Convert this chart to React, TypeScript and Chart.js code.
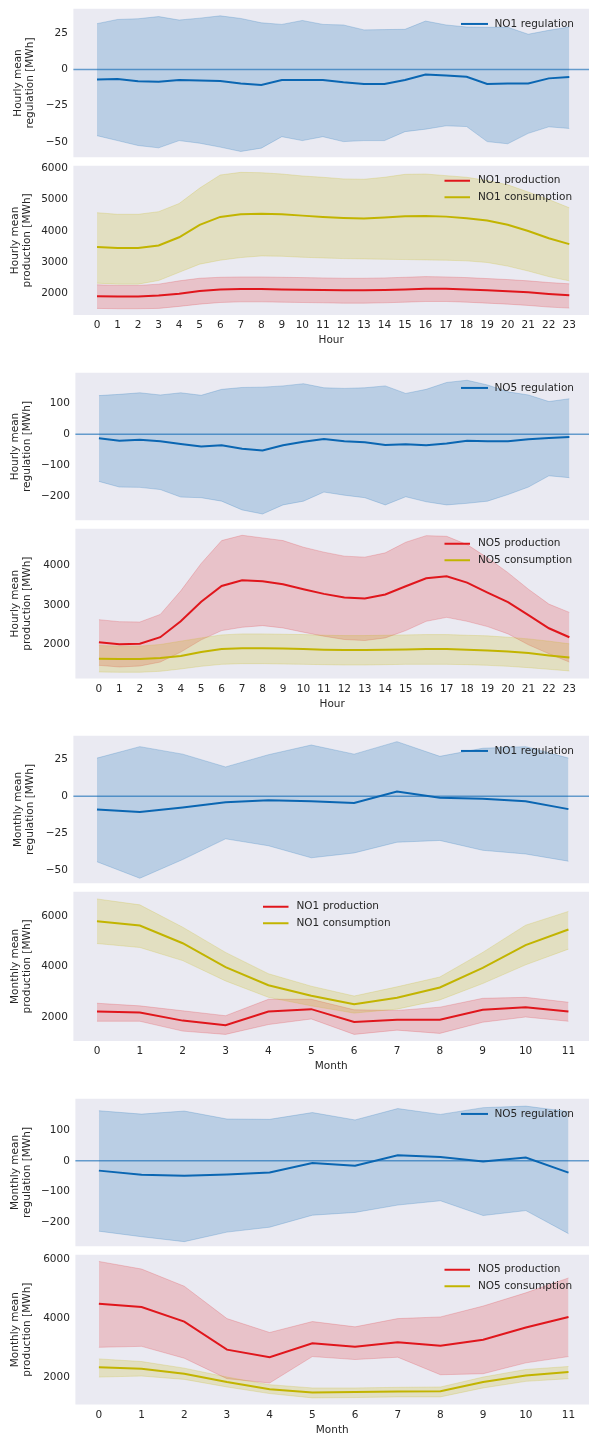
import React, { useEffect, useRef } from "react";
import { Chart, registerables } from "chart.js";

Chart.register(...registerables);

// ---------------- data ----------------
const HOURS = [0, 1, 2, 3, 4, 5, 6, 7, 8, 9, 10, 11, 12, 13, 14, 15, 16, 17, 18, 19, 20, 21, 22, 23];
const MONTHS = [0, 1, 2, 3, 4, 5, 6, 7, 8, 9, 10, 11];

// NO1 hourly regulation
const NO1_H_REG_MEAN = [-6.8, -6.6, -8.1, -8.4, -7.2, -7.5, -7.9, -9.7, -10.6, -7.2, -7.2, -7.2, -8.8, -10, -10, -7.2, -3.4, -4.1, -5, -10, -9.7, -9.7, -6.1, -5.2];
const NO1_H_REG_HIGH = [31.7, 34.6, 35.1, 36.6, 34.2, 35.5, 37.1, 35.3, 32.3, 31.2, 33.9, 31.2, 30.8, 27.4, 27.6, 27.8, 33.5, 30.8, 29.4, 29.2, 29.2, 24.4, 27.1, 29.4];
const NO1_H_REG_LOW = [-45.7, -49.1, -52.5, -54.1, -49.1, -50.9, -53.6, -56.6, -54.3, -46.4, -49.1, -46.4, -49.8, -49.1, -49.1, -42.9, -41.2, -38.9, -39.4, -49.8, -51.3, -44.1, -39.6, -40.7];

// NO1 hourly production / consumption
const NO1_H_PROD_MEAN = [1916, 1906, 1906, 1937, 2000, 2084, 2136, 2147, 2147, 2136, 2126, 2115, 2105, 2105, 2115, 2136, 2157, 2157, 2136, 2105, 2073, 2042, 1990, 1948];
const NO1_H_PROD_HIGH = [2283, 2262, 2262, 2304, 2408, 2492, 2523, 2534, 2534, 2523, 2513, 2503, 2492, 2492, 2503, 2523, 2544, 2534, 2513, 2482, 2450, 2408, 2356, 2314];
const NO1_H_PROD_LOW = [1529, 1518, 1518, 1529, 1592, 1665, 1717, 1738, 1738, 1728, 1717, 1707, 1696, 1696, 1707, 1728, 1749, 1749, 1728, 1696, 1665, 1623, 1571, 1539];
const NO1_H_CONS_MEAN = [3487, 3455, 3455, 3539, 3800, 4199, 4450, 4534, 4555, 4534, 4492, 4450, 4419, 4398, 4429, 4471, 4481, 4460, 4408, 4335, 4199, 4000, 3769, 3581];
const NO1_H_CONS_HIGH = [4586, 4534, 4534, 4618, 4879, 5371, 5790, 5874, 5863, 5821, 5759, 5717, 5665, 5654, 5717, 5811, 5821, 5769, 5717, 5612, 5476, 5246, 5005, 4743];
const NO1_H_CONS_LOW = [2335, 2304, 2304, 2419, 2681, 2942, 3068, 3152, 3204, 3194, 3162, 3141, 3120, 3110, 3099, 3089, 3078, 3068, 3047, 2995, 2880, 2722, 2544, 2408];

// NO5 hourly regulation
const NO5_H_REG_MEAN = [-13.5, -20.8, -17.7, -22.9, -31.3, -39.6, -35.4, -46.9, -52.1, -35.4, -24, -15.6, -22.9, -26, -34.4, -32.3, -35.4, -30.2, -20.8, -22.9, -22.9, -16.7, -12.5, -9.4];
const NO5_H_REG_HIGH = [123, 127, 132, 125, 132, 124, 143, 149, 150, 154, 161, 148, 146, 148, 154, 130, 143, 165, 172, 157, 135, 125, 104, 113];
const NO5_H_REG_LOW = [-151, -169, -170, -177, -201, -203, -214, -242, -255, -226, -214, -185, -195, -203, -226, -200, -216, -226, -221, -214, -193, -169, -133, -139];

// NO5 hourly production / consumption
const NO5_H_PROD_MEAN = [2059, 2008, 2017, 2184, 2586, 3079, 3481, 3623, 3598, 3523, 3397, 3280, 3188, 3163, 3264, 3473, 3674, 3724, 3565, 3314, 3071, 2745, 2410, 2184];
const NO5_H_PROD_HIGH = [2628, 2577, 2569, 2761, 3356, 4050, 4628, 4762, 4695, 4628, 4460, 4335, 4234, 4209, 4318, 4586, 4753, 4736, 4527, 4192, 3816, 3398, 3021, 2812];
const NO5_H_PROD_LOW = [1473, 1431, 1456, 1556, 1808, 2117, 2351, 2435, 2477, 2418, 2310, 2209, 2126, 2100, 2167, 2351, 2586, 2686, 2586, 2452, 2268, 1992, 1766, 1556];
const NO5_H_CONS_MEAN = [1640, 1632, 1632, 1657, 1707, 1808, 1883, 1908, 1908, 1900, 1883, 1866, 1858, 1858, 1866, 1874, 1883, 1883, 1866, 1849, 1824, 1782, 1724, 1674];
const NO5_H_CONS_HIGH = [1975, 1958, 1958, 2000, 2084, 2167, 2243, 2268, 2268, 2259, 2251, 2234, 2226, 2226, 2234, 2243, 2251, 2251, 2234, 2218, 2184, 2142, 2084, 2017];
const NO5_H_CONS_LOW = [1305, 1297, 1297, 1322, 1381, 1448, 1498, 1515, 1515, 1506, 1498, 1490, 1481, 1481, 1490, 1498, 1498, 1498, 1490, 1473, 1448, 1414, 1372, 1331];

// NO1 monthly regulation
const NO1_M_REG_MEAN = [-8.9, -10.7, -7.6, -4.0, -2.7, -3.3, -4.5, 3.3, -0.9, -1.6, -3.3, -8.7];
const NO1_M_REG_HIGH = [26, 33.8, 28.7, 20, 28.3, 34.9, 28.7, 37.2, 27.2, 32.7, 33.8, 26];
const NO1_M_REG_LOW = [-44.5, -55.7, -43, -28.9, -33.6, -41.8, -38.5, -31.2, -30, -36.7, -39.2, -44.1];

// NO1 monthly production / consumption
const NO1_M_PROD_MEAN = [2222, 2182, 1857, 1674, 2222, 2313, 1805, 1896, 1896, 2287, 2391, 2222];
const NO1_M_PROD_HIGH = [2547, 2443, 2248, 2052, 2704, 2704, 2287, 2261, 2391, 2743, 2782, 2586];
const NO1_M_PROD_LOW = [1831, 1831, 1440, 1309, 1700, 1922, 1309, 1479, 1349, 1792, 2000, 1831];
const NO1_M_CONS_MEAN = [5805, 5635, 4932, 3981, 3264, 2847, 2508, 2769, 3173, 3955, 4854, 5479];
const NO1_M_CONS_HIGH = [6691, 6456, 5570, 4567, 3720, 3225, 2834, 3199, 3590, 4567, 5648, 6196];
const NO1_M_CONS_LOW = [4919, 4762, 4241, 3433, 2782, 2443, 2156, 2313, 2678, 3329, 4072, 4697];

// NO5 monthly regulation
const NO5_M_REG_MEAN = [-31.9, -45.7, -48.9, -44.7, -38.3, -7.4, -16, 18.1, 12.8, -2.1, 10.6, -38.3];
const NO5_M_REG_HIGH = [163, 152, 162, 136, 135, 157, 133, 170, 151, 173, 178, 160];
const NO5_M_REG_LOW = [-229, -247, -263, -232, -216, -177, -168, -144, -130, -178, -162, -237];

// NO5 monthly production / consumption
const NO5_M_PROD_MEAN = [4495, 4384, 3894, 2947, 2691, 3159, 3047, 3192, 3081, 3281, 3693, 4050];
const NO5_M_PROD_HIGH = [5921, 5665, 5086, 3994, 3526, 3894, 3716, 3994, 4050, 4417, 4863, 5364];
const NO5_M_PROD_LOW = [3025, 3058, 2657, 1967, 1822, 2713, 2613, 2691, 2100, 2134, 2501, 2713];
const NO5_M_CONS_MEAN = [2356, 2301, 2134, 1855, 1610, 1499, 1521, 1532, 1543, 1855, 2078, 2189];
const NO5_M_CONS_HIGH = [2635, 2546, 2323, 2022, 1766, 1655, 1655, 1677, 1688, 2022, 2279, 2379];
const NO5_M_CONS_LOW = [2022, 2056, 1944, 1688, 1465, 1320, 1332, 1354, 1354, 1655, 1877, 1967];

// tick labels
const REG_SMALL_TICKS = [-50, -25, 0, 25];
const REG_LARGE_TICKS = [-200, -100, 0, 100];
const NO1_H_PROD_TICKS = [2000, 3000, 4000, 5000, 6000];
const NO5_H_PROD_TICKS = [2000, 3000, 4000];
const M_PROD_TICKS = [2000, 4000, 6000];

// ---------------- styles ----------------
const FONT_FAMILY = "'DejaVu Sans', sans-serif";
const FS = 10.5;
const TEXT = "#262626";
const BG = "#eaeaf2";
const PLOT_H = 151;
const X_AXIS_H = 32;

const BLUE = "#0a66b2";
const BLUE_FILL = "rgba(10,102,178,0.21)";
const RED = "#e0161c";
const RED_FILL = "rgba(224,22,28,0.19)";
const YEL = "#c2b400";
const YEL_FILL = "rgba(194,180,0,0.2)";

type Series = { label: string; color: string; fill: string; mean: number[]; high: number[]; low: number[] };
type LegendPos = { x0: number; x1: number; tx: number; dy: number; gap: number };
type PanelCfg = {
  top: number;
  left: number;
  xs: number[];
  xMin: number;
  xMax: number;
  yMin: number;
  yMax: number;
  yTicks: number[];
  yTitle: string[];
  yTitlePad: number;
  xTitle?: string;
  zero: boolean;
  series: Series[];
  legend: LegendPos;
};

const REG_LEGEND: LegendPos = { x0: 461, x1: 488, tx: 494.5, dy: 15.2, gap: 16.5 };
const PROD_LEGEND: LegendPos = { x0: 444.5, x1: 470, tx: 478, dy: 15, gap: 16.5 };
const MID_LEGEND: LegendPos = { x0: 263, x1: 288.5, tx: 296.5, dy: 15, gap: 16.5 };

const H_MIN = -1.15;
const H_MAX = 23.96;
const M_MIN = -0.55;
const M_MAX = 11.48;

const PANELS: PanelCfg[] = [
  {
    top: 7.5, left: 73.4, xs: HOURS, xMin: H_MIN, xMax: H_MAX, yMin: -60.6, yMax: 42, yTicks: REG_SMALL_TICKS,
    yTitle: ["Hourly mean", "regulation [MWh]"], yTitlePad: 11.75, zero: true, legend: REG_LEGEND,
    series: [{ label: "NO1 regulation", color: BLUE, fill: BLUE_FILL, mean: NO1_H_REG_MEAN, high: NO1_H_REG_HIGH, low: NO1_H_REG_LOW }],
  },
  {
    top: 164, left: 73.4, xs: HOURS, xMin: H_MIN, xMax: H_MAX, yMin: 1318, yMax: 6085, yTicks: NO1_H_PROD_TICKS,
    yTitle: ["Hourly mean", "production [MWh]"], yTitlePad: 8.75, xTitle: "Hour", zero: false, legend: PROD_LEGEND,
    series: [
      { label: "NO1 production", color: RED, fill: RED_FILL, mean: NO1_H_PROD_MEAN, high: NO1_H_PROD_HIGH, low: NO1_H_PROD_LOW },
      { label: "NO1 consumption", color: YEL, fill: YEL_FILL, mean: NO1_H_CONS_MEAN, high: NO1_H_CONS_HIGH, low: NO1_H_CONS_LOW },
    ],
  },
  {
    top: 371, left: 75.4, xs: HOURS, xMin: H_MIN, xMax: H_MAX, yMin: -275, yMax: 196, yTicks: REG_LARGE_TICKS,
    yTitle: ["Hourly mean", "regulation [MWh]"], yTitlePad: 8.75, zero: true, legend: REG_LEGEND,
    series: [{ label: "NO5 regulation", color: BLUE, fill: BLUE_FILL, mean: NO5_H_REG_MEAN, high: NO5_H_REG_HIGH, low: NO5_H_REG_LOW }],
  },
  {
    top: 527.5, left: 75.4, xs: HOURS, xMin: H_MIN, xMax: H_MAX, yMin: 1140, yMax: 4927, yTicks: NO5_H_PROD_TICKS,
    yTitle: ["Hourly mean", "production [MWh]"], yTitlePad: 8.75, xTitle: "Hour", zero: false, legend: PROD_LEGEND,
    series: [
      { label: "NO5 production", color: RED, fill: RED_FILL, mean: NO5_H_PROD_MEAN, high: NO5_H_PROD_HIGH, low: NO5_H_PROD_LOW },
      { label: "NO5 consumption", color: YEL, fill: YEL_FILL, mean: NO5_H_CONS_MEAN, high: NO5_H_CONS_HIGH, low: NO5_H_CONS_LOW },
    ],
  },
  {
    top: 734, left: 73.4, xs: MONTHS, xMin: M_MIN, xMax: M_MAX, yMin: -59.1, yMax: 41.2, yTicks: REG_SMALL_TICKS,
    yTitle: ["Monthly mean", "regulation [MWh]"], yTitlePad: 11.75, zero: true, legend: REG_LEGEND,
    series: [{ label: "NO1 regulation", color: BLUE, fill: BLUE_FILL, mean: NO1_M_REG_MEAN, high: NO1_M_REG_HIGH, low: NO1_M_REG_LOW }],
  },
  {
    top: 890, left: 73.4, xs: MONTHS, xMin: M_MIN, xMax: M_MAX, yMin: 1047, yMax: 6977, yTicks: M_PROD_TICKS,
    yTitle: ["Monthly mean", "production [MWh]"], yTitlePad: 8.75, xTitle: "Month", zero: false, legend: MID_LEGEND,
    series: [
      { label: "NO1 production", color: RED, fill: RED_FILL, mean: NO1_M_PROD_MEAN, high: NO1_M_PROD_HIGH, low: NO1_M_PROD_LOW },
      { label: "NO1 consumption", color: YEL, fill: YEL_FILL, mean: NO1_M_CONS_MEAN, high: NO1_M_CONS_HIGH, low: NO1_M_CONS_LOW },
    ],
  },
  {
    top: 1097, left: 75.4, xs: MONTHS, xMin: M_MIN, xMax: M_MAX, yMin: -278, yMax: 202, yTicks: REG_LARGE_TICKS,
    yTitle: ["Monthly mean", "regulation [MWh]"], yTitlePad: 8.75, zero: true, legend: REG_LEGEND,
    series: [{ label: "NO5 regulation", color: BLUE, fill: BLUE_FILL, mean: NO5_M_REG_MEAN, high: NO5_M_REG_HIGH, low: NO5_M_REG_LOW }],
  },
  {
    top: 1253.5, left: 75.4, xs: MONTHS, xMin: M_MIN, xMax: M_MAX, yMin: 1097, yMax: 6147, yTicks: M_PROD_TICKS,
    yTitle: ["Monthly mean", "production [MWh]"], yTitlePad: 8.75, xTitle: "Month", zero: false, legend: PROD_LEGEND,
    series: [
      { label: "NO5 production", color: RED, fill: RED_FILL, mean: NO5_M_PROD_MEAN, high: NO5_M_PROD_HIGH, low: NO5_M_PROD_LOW },
      { label: "NO5 consumption", color: YEL, fill: YEL_FILL, mean: NO5_M_CONS_MEAN, high: NO5_M_CONS_HIGH, low: NO5_M_CONS_LOW },
    ],
  },
];

function fmt(v: number): string {
  return v < 0 ? "\u2212" + Math.abs(v) : String(v);
}

function pts(xs: number[], ys: number[]) {
  return xs.map((x, i) => ({ x, y: ys[i] }));
}

const font = { family: FONT_FAMILY, size: FS, lineHeight: 1.19 };

function Panel({ cfg }: { cfg: PanelCfg }) {
  const ref = useRef<HTMLCanvasElement | null>(null);
  const canvasTop = Math.floor(cfg.top) - 10;
  const padTop = cfg.top - canvasTop;
  const showX = !!cfg.xTitle;
  const xH = showX ? X_AXIS_H : 0;
  const height = Math.ceil(padTop + PLOT_H + xH + (showX ? 3 : 10));
  const padBottom = height - padTop - PLOT_H - xH;

  useEffect(() => {
    if (!ref.current) return;
    const datasets: any[] = [];
    cfg.series.forEach((s, k) => {
      datasets.push({
        label: s.label + " high",
        data: pts(cfg.xs, s.high),
        borderColor: s.fill,
        borderWidth: 1,
        backgroundColor: s.fill,
        fill: "+1",
        pointRadius: 0,
        tension: 0,
        order: 10 - k,
      });
      datasets.push({
        label: s.label + " low",
        data: pts(cfg.xs, s.low),
        borderColor: s.fill,
        borderWidth: 1,
        fill: false,
        pointRadius: 0,
        tension: 0,
        order: 10 - k,
      });
    });
    cfg.series.forEach((s, k) => {
      datasets.push({
        label: s.label,
        data: pts(cfg.xs, s.mean),
        borderColor: s.color,
        borderWidth: 2,
        fill: false,
        pointRadius: 0,
        tension: 0,
        order: 3 - k,
      });
    });

    const bgPlugin = {
      id: "bg",
      beforeDraw(chart: any) {
        const { ctx, chartArea: a } = chart;
        ctx.save();
        ctx.fillStyle = BG;
        ctx.fillRect(a.left, a.top, a.right - a.left, a.bottom - a.top);
        ctx.restore();
      },
    };
    const zeroPlugin = {
      id: "zero",
      afterDatasetsDraw(chart: any) {
        if (!cfg.zero) return;
        const { ctx, chartArea: a } = chart;
        const y = chart.scales.y.getPixelForValue(0);
        ctx.save();
        ctx.strokeStyle = "rgba(10,102,178,0.6)";
        ctx.lineWidth = 1.5;
        ctx.beginPath();
        ctx.moveTo(a.left, y);
        ctx.lineTo(a.right, y);
        ctx.stroke();
        ctx.restore();
      },
    };
    const legendPlugin = {
      id: "customLegend",
      afterDraw(chart: any) {
        const { ctx, chartArea: a } = chart;
        const L = cfg.legend;
        ctx.save();
        cfg.series.forEach((s, i) => {
          const y = a.top + L.dy + i * L.gap;
          ctx.strokeStyle = s.color;
          ctx.lineWidth = 2;
          ctx.beginPath();
          ctx.moveTo(L.x0, y);
          ctx.lineTo(L.x1, y);
          ctx.stroke();
          ctx.fillStyle = TEXT;
          ctx.font = `${FS}px ${FONT_FAMILY}`;
          ctx.textBaseline = "middle";
          ctx.textAlign = "left";
          ctx.fillText(s.label, L.tx, y);
        });
        ctx.restore();
      },
    };

    const chart = new Chart(ref.current, {
      type: "line",
      data: { datasets },
      plugins: [bgPlugin, zeroPlugin, legendPlugin],
      options: {
        responsive: false,
        maintainAspectRatio: false,
        animation: false,
        events: [],
        layout: { padding: { top: padTop, bottom: padBottom, left: 0, right: 0 } },
        plugins: { legend: { display: false }, tooltip: { enabled: false } },
        scales: {
          x: {
            type: "linear",
            min: cfg.xMin,
            max: cfg.xMax,
            display: showX,
            grid: { display: false, drawTicks: false },
            border: { display: false },
            afterBuildTicks: (s: any) => {
              s.ticks = cfg.xs.map((v) => ({ value: v }));
            },
            afterFit: (s: any) => {
              s.height = showX ? X_AXIS_H : 0;
            },
            ticks: {
              autoSkip: false,
              maxRotation: 0,
              minRotation: 0,
              padding: 4.5,
              color: TEXT,
              font,
              callback: (v: any) => fmt(Number(v)),
            },
            title: {
              display: showX,
              text: cfg.xTitle || "",
              color: TEXT,
              font,
              padding: { top: 0, bottom: 0.45 },
            },
          },
          y: {
            type: "linear",
            min: cfg.yMin,
            max: cfg.yMax,
            grid: { display: false, drawTicks: false },
            border: { display: false },
            afterBuildTicks: (s: any) => {
              s.ticks = cfg.yTicks.map((v) => ({ value: v }));
            },
            afterFit: (s: any) => {
              s.width = cfg.left;
            },
            ticks: {
              padding: 5.5,
              color: TEXT,
              font,
              callback: (v: any) => fmt(Number(v)),
            },
            title: {
              display: true,
              text: cfg.yTitle,
              color: TEXT,
              font,
              padding: { top: cfg.yTitlePad, bottom: 0 },
            },
          },
        },
      } as any,
    });
    return () => chart.destroy();
  }, [cfg]);

  return (
    <canvas
      ref={ref}
      width={589}
      height={height}
      style={{ position: "absolute", left: 0, top: canvasTop, width: 589, height }}
    />
  );
}

export default function App() {
  return (
    <div style={{ position: "absolute", left: 0, top: 0, width: 589, height: 1435, background: "#ffffff", overflow: "hidden" }}>
      {PANELS.map((p, i) => (
        <Panel key={i} cfg={p} />
      ))}
    </div>
  );
}
